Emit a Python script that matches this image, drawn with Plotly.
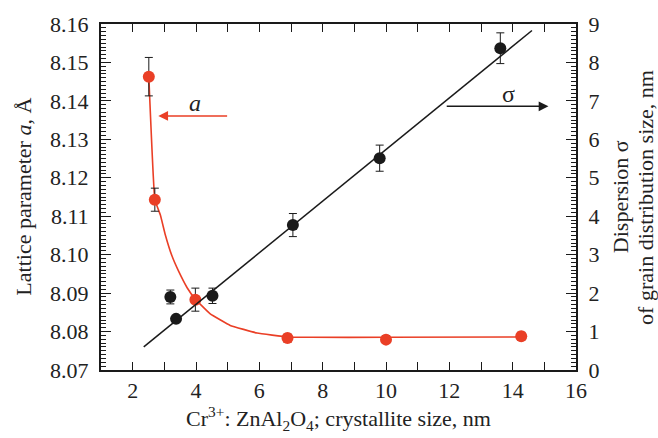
import plotly.graph_objects as go

# ---- data ----
# lattice parameter a (left axis)
a_x = [2.51, 2.70, 3.98, 6.89, 10.0, 14.27]
a_y = [8.1463, 8.1143, 8.0883, 8.0783, 8.0779, 8.0788]
a_err = [0.005, 0.003, 0.003, 0.001, 0.001, 0.001]

# fitted decay curve for a (traced)
a_fit_x = [2.51, 2.70, 2.875, 3.03, 3.24, 3.45, 3.72, 3.98, 4.45, 5.08, 5.93, 6.88, 7.61, 10.0, 14.27]
a_fit_y = [8.1463, 8.1143, 8.1103, 8.1052, 8.0997, 8.0957, 8.0914, 8.0884, 8.0846, 8.0816,
           8.0796, 8.0786, 8.0785, 8.0785, 8.0786]

# dispersion sigma (right axis)
s_x = [3.19, 3.37, 4.52, 7.06, 9.80, 13.61]
s_y = [1.90, 1.33, 1.93, 3.77, 5.51, 8.37]
s_err = [0.18, 0.0, 0.2, 0.3, 0.34, 0.4]

# linear fit line for sigma (endpoints traced)
s_fit_x = [2.35, 14.61]
s_fit_y = [0.60, 8.83]

x_ticks = [2, 4, 6, 8, 10, 12, 14, 16]

RED = "#ea3f26"
BLACK = "#1a1a1a"
FONT = "Liberation Serif"

fig = go.Figure()

fig.add_trace(go.Scatter(x=s_fit_x, y=s_fit_y, mode="lines", yaxis="y2",
                         line=dict(color=BLACK, width=1.5), showlegend=False))
fig.add_trace(go.Scatter(x=s_x, y=s_y, mode="markers", yaxis="y2",
                         marker=dict(color=BLACK, size=12),
                         error_y=dict(type="data", array=s_err, color=BLACK, thickness=1, width=4),
                         showlegend=False))
fig.add_trace(go.Scatter(x=a_fit_x, y=a_fit_y, mode="lines",
                         line=dict(color=RED, width=1.6, shape="spline", smoothing=0.25),
                         showlegend=False))
fig.add_trace(go.Scatter(x=a_x, y=a_y, mode="markers",
                         marker=dict(color=RED, size=12),
                         error_y=dict(type="data", array=a_err, color=BLACK, thickness=1, width=4),
                         showlegend=False))

tickfont = dict(family=FONT, size=22, color="#222")

fig.update_layout(
    width=658, height=438,
    margin=dict(l=101, r=82, t=20, b=68),
    paper_bgcolor="white", plot_bgcolor="white",
    font=dict(family=FONT, color="#222"),
    xaxis=dict(range=[1, 16], tickvals=x_ticks, ticks="inside", ticklen=8, tickwidth=1.2,
               tickcolor=BLACK, showline=True, linecolor=BLACK, linewidth=2, mirror="ticks",
               showgrid=False, zeroline=False, tickfont=tickfont,
               minor=dict(dtick=1, tick0=1, ticks="inside", ticklen=8, tickwidth=1.2, tickcolor=BLACK)),
    yaxis=dict(range=[8.07, 8.16], dtick=0.01, tick0=8.07, tickformat=".2f",
               ticks="inside", ticklen=10, tickwidth=1.2, tickcolor=BLACK,
               showline=True, linecolor=BLACK, linewidth=2, showgrid=False, zeroline=False,
               tickfont=tickfont, ticklabelstandoff=6,
               minor=dict(dtick=0.001, tick0=8.07, ticks="inside", ticklen=5, tickwidth=1, tickcolor=BLACK)),
    yaxis2=dict(range=[0, 9], dtick=1, overlaying="y", side="right",
                ticks="inside", ticklen=10, tickwidth=1.2, tickcolor=BLACK,
                showline=True, linecolor=BLACK, linewidth=2, showgrid=False, zeroline=False,
                tickfont=tickfont, ticklabelstandoff=6,
                minor=dict(dtick=0.1, tick0=0, ticks="inside", ticklen=5, tickwidth=1, tickcolor=BLACK)),
)

title_font = dict(family=FONT, size=22, color="#222")
annotations = [
    dict(xref="paper", yref="paper", x=-0.165, y=0.5, text="Lattice parameter <i>a</i>, Å",
         textangle=-90, showarrow=False, xanchor="center", yanchor="middle", font=title_font),
    dict(xref="paper", yref="paper", x=1.093, y=0.5, text="Dispersion σ",
         textangle=-90, showarrow=False, xanchor="center", yanchor="middle", font=title_font),
    dict(xref="paper", yref="paper", x=1.145, y=0.5, text="of grain distribution size, nm",
         textangle=-90, showarrow=False, xanchor="center", yanchor="middle", font=title_font),
    dict(xref="paper", yref="paper", x=0.5, y=-0.14,
         text="Cr<sup>3+</sup>: ZnAl<sub>2</sub>O<sub>4</sub>; crystallite size, nm",
         showarrow=False, xanchor="center", yanchor="middle", font=title_font),
    # red arrow pointing to left axis
    dict(xref="x", yref="y", x=2.81, y=8.1361, ax=5.03, ay=8.1361, axref="x", ayref="y",
         text="", showarrow=True, arrowhead=2, arrowsize=1.3, arrowwidth=1.5, arrowcolor=RED),
    dict(xref="x", yref="y", x=3.98, y=8.1394, text="<i>a</i>", showarrow=False,
         font=dict(family=FONT, size=24, color="#222")),
    # black arrow pointing to right axis
    dict(xref="x", yref="y2", x=15.13, y=6.86, ax=11.87, ay=6.86, axref="x", ayref="y2",
         text="", showarrow=True, arrowhead=2, arrowsize=1.3, arrowwidth=1.5, arrowcolor=BLACK),
    dict(xref="x", yref="y2", x=13.87, y=7.18, text="σ", showarrow=False,
         font=dict(family=FONT, size=24, color="#222")),
]
fig.update_layout(annotations=annotations)

fig.write_html("out.html", config={"displayModeBar": False},
               post_script="document.body.style.margin='0';document.body.style.padding='0';")
